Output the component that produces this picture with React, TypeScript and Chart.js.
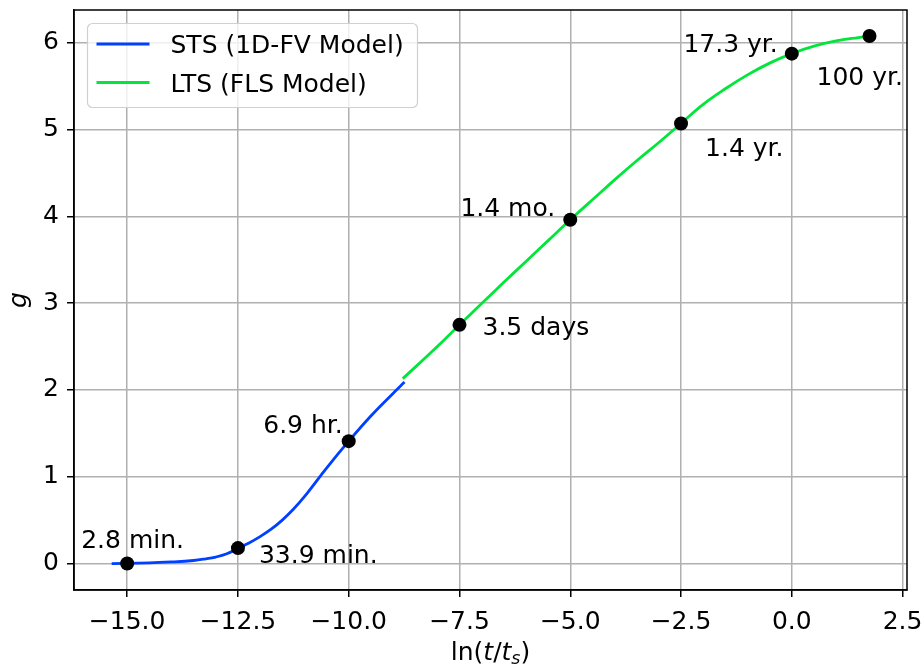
import React, { useEffect, useRef } from "react";
import { Chart, registerables } from "chart.js";

Chart.register(...registerables);

// ---- data ----
const seriesNames = ["STS (1D-FV Model)", "LTS (FLS Model)"];

const stsX = [-15.35, -14.5, -14.0, -13.5, -13.25, -13.0, -12.75, -12.5, -12.25, -12.0, -11.75, -11.5, -11.25, -11.0, -10.5, -10.0, -9.5, -9.0, -8.74];
const stsG = [0.0, 0.007, 0.018, 0.035, 0.052, 0.075, 0.113, 0.175, 0.237, 0.31, 0.395, 0.5, 0.625, 0.77, 1.1, 1.41, 1.7, 1.96, 2.09];

const ltsX = [-8.78, -8.0, -7.5, -7.0, -6.5, -6.0, -5.5, -5.0, -4.5, -4.0, -3.5, -3.0, -2.5, -2.0, -1.5, -1.0, -0.5, 0.0, 0.5, 1.0, 1.5, 1.754];
const ltsG = [2.13, 2.5, 2.75, 2.995, 3.24, 3.48, 3.72, 3.96, 4.19, 4.42, 4.64, 4.85, 5.07, 5.29, 5.47, 5.63, 5.765, 5.874, 5.96, 6.02, 6.06, 6.077];

const markerX = [-15, -12.5, -10, -7.5, -5, -2.5, 0, 1.754];
const markerG = [0.0, 0.178, 1.41, 2.75, 3.96, 5.07, 5.874, 6.077];
const markerLabels = ["2.8 min.", "33.9 min.", "6.9 hr.", "3.5 days", "1.4 mo.", "1.4 yr.", "17.3 yr.", "100 yr."];

const xTicks = [-15, -12.5, -10, -7.5, -5, -2.5, 0, 2.5];
const yTicks = [0, 1, 2, 3, 4, 5, 6];

// ---- styling ----
const FONT = "'DejaVu Sans', sans-serif";
const FS = 25;
const BLUE = "#0040ff";
const GREEN = "#00e63a";
const GRID = "#b0b0b0";

// label placement in pixels relative to each marker (style only)
const labelPlacement = [
  { dx: -46, dy: -16, align: "left" },
  { dx: 21, dy: 15, align: "left" },
  { dx: -6, dy: -8, align: "right" },
  { dx: 23, dy: 10, align: "left" },
  { dx: -15, dy: -4, align: "right" },
  { dx: 24, dy: 33, align: "left" },
  { dx: -14, dy: -2, align: "right" },
  { dx: -53, dy: 49, align: "left" },
];

const fmtX = (v: number) => v.toFixed(1).replace("-", "\u2212");

const overlayPlugin = {
  id: "overlay",
  afterDraw(chart: any) {
    const { ctx, chartArea: ca, scales } = chart;
    const xs = scales.x;
    const ys = scales.y;
    ctx.save();

    // frame
    ctx.strokeStyle = "#000";
    ctx.lineWidth = 1.5;
    ctx.strokeRect(ca.left, ca.top, ca.right - ca.left, ca.bottom - ca.top);

    // annotations
    ctx.fillStyle = "#000";
    ctx.font = `${FS}px ${FONT}`;
    ctx.textBaseline = "alphabetic";
    markerLabels.forEach((lab, i) => {
      const p = labelPlacement[i];
      const px = xs.getPixelForValue(markerX[i]);
      const py = ys.getPixelForValue(markerG[i]);
      ctx.textAlign = p.align;
      ctx.fillText(lab, px + p.dx, py + p.dy);
    });

    // legend
    const lx = ca.left + 13.5;
    const ly = ca.top + 13.5;
    const lw = 330;
    const lh = 84;
    ctx.beginPath();
    ctx.roundRect(lx, ly, lw, lh, 5);
    ctx.fillStyle = "rgba(255,255,255,0.8)";
    ctx.fill();
    ctx.strokeStyle = "#d0d0d0";
    ctx.lineWidth = 1.2;
    ctx.stroke();
    chart.data.datasets.slice(0, 2).forEach((ds: any, i: number) => {
      const yy = ly + 20.5 + i * 38.5;
      ctx.beginPath();
      ctx.moveTo(lx + 9, yy);
      ctx.lineTo(lx + 62, yy);
      ctx.strokeStyle = ds.borderColor;
      ctx.lineWidth = 2.8;
      ctx.stroke();
      ctx.fillStyle = "#000";
      ctx.textAlign = "left";
      ctx.textBaseline = "alphabetic";
      ctx.font = `${FS}px ${FONT}`;
      ctx.fillText(ds.label, lx + 83, yy + 9);
    });

    // x axis title: ln(t/t_s)
    const parts: [string, string, number, number][] = [
      ["ln(", "normal", FS, 0],
      ["t", "italic", FS, 0],
      ["/", "normal", FS, 0],
      ["t", "italic", FS, 0],
      ["s", "italic", FS * 0.7, 4],
      [")", "normal", FS, 0],
    ];
    let total = 0;
    parts.forEach(([s, st, sz]) => {
      ctx.font = `${st} ${sz}px ${FONT}`;
      total += ctx.measureText(s).width;
    });
    let cx = (ca.left + ca.right) / 2 - total / 2;
    const by = 660;
    ctx.textAlign = "left";
    parts.forEach(([s, st, sz, off]) => {
      ctx.font = `${st} ${sz}px ${FONT}`;
      ctx.fillText(s, cx, by + off);
      cx += ctx.measureText(s).width;
    });

    // y axis title: g (italic)
    ctx.translate(26, (ca.top + ca.bottom) / 2);
    ctx.rotate(-Math.PI / 2);
    ctx.font = `italic ${FS}px ${FONT}`;
    ctx.textAlign = "center";
    ctx.fillText("g", 0, 0);

    ctx.restore();
  },
};

export default function App() {
  const ref = useRef<HTMLCanvasElement>(null);

  useEffect(() => {
    if (!ref.current) return;
    const chart = new Chart(ref.current, {
      type: "line",
      data: {
        datasets: [
          {
            label: seriesNames[0],
            data: stsX.map((x, i) => ({ x, y: stsG[i] })),
            borderColor: BLUE,
            backgroundColor: BLUE,
            borderWidth: 2.8,
            pointRadius: 0,
            tension: 0.4,
            fill: false,
            order: 2,
          },
          {
            label: seriesNames[1],
            data: ltsX.map((x, i) => ({ x, y: ltsG[i] })),
            borderColor: GREEN,
            backgroundColor: GREEN,
            borderWidth: 2.8,
            pointRadius: 0,
            tension: 0.4,
            fill: false,
            order: 2,
          },
          {
            label: "points",
            type: "scatter",
            data: markerX.map((x, i) => ({ x, y: markerG[i] })),
            showLine: false,
            pointRadius: 7,
            pointHoverRadius: 7,
            pointBackgroundColor: "#000",
            pointBorderColor: "#000",
            pointBorderWidth: 0,
            borderColor: "#000",
            backgroundColor: "#000",
            order: 1,
          } as any,
        ],
      },
      options: {
        animation: false,
        responsive: true,
        maintainAspectRatio: false,
        layout: { padding: { top: 10, right: 15, left: 0, bottom: 0 } },
        plugins: {
          legend: { display: false },
          tooltip: { enabled: false },
        },
        scales: {
          x: {
            type: "linear",
            min: -16.2,
            max: 2.6,
            afterBuildTicks: (s: any) => {
              s.ticks = xTicks.map((v) => ({ value: v }));
            },
            afterFit: (s: any) => {
              s.height = 74;
              s.paddingLeft = 0;
              s.paddingRight = 0;
            },
            ticks: {
              callback: (v: any) => fmtX(Number(v)),
              font: { family: FONT, size: FS },
              color: "#000",
              padding: 10,
              maxRotation: 0,
              autoSkip: false,
            },
            grid: { color: GRID, lineWidth: 1.5, tickColor: "#000", tickLength: 7, tickWidth: 1.5 },
            border: { color: "#000", width: 1.5 },
          },
          y: {
            type: "linear",
            min: -0.305,
            max: 6.377,
            afterBuildTicks: (s: any) => {
              s.ticks = yTicks.map((v) => ({ value: v }));
            },
            afterFit: (s: any) => {
              s.width = 74;
              s.paddingTop = 0;
              s.paddingBottom = 0;
            },
            ticks: {
              callback: (v: any) => String(v),
              font: { family: FONT, size: FS },
              color: "#000",
              padding: 8,
              autoSkip: false,
            },
            grid: { color: GRID, lineWidth: 1.5, tickColor: "#000", tickLength: 7, tickWidth: 1.5 },
            border: { color: "#000", width: 1.5 },
          },
        },
      },
      plugins: [overlayPlugin],
    });
    return () => chart.destroy();
  }, []);

  return (
    <div style={{ position: "absolute", left: 0, top: 0, width: 922, height: 664, background: "#fff" }}>
      <canvas ref={ref} />
    </div>
  );
}
